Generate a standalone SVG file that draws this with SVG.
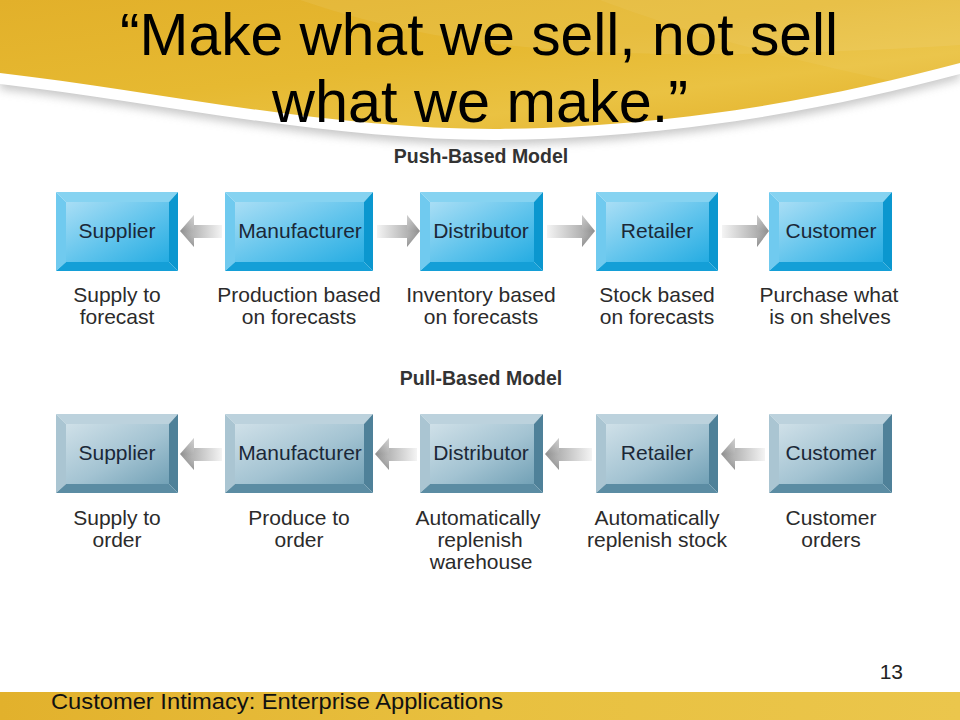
<svg xmlns="http://www.w3.org/2000/svg" width="960" height="720" viewBox="0 0 960 720">
<defs>
<linearGradient id="yel" x1="0" y1="0" x2="1" y2="1">
<stop offset="0" stop-color="#e2b02a"/>
<stop offset="0.45" stop-color="#e6b931"/>
<stop offset="0.7" stop-color="#eac242"/>
<stop offset="1" stop-color="#e1ae28"/>
</linearGradient>
<linearGradient id="yelB" x1="0" y1="0" x2="1" y2="0">
<stop offset="0" stop-color="#e2b12c"/>
<stop offset="0.5" stop-color="#e8c03f"/>
<stop offset="1" stop-color="#ebc64c"/>
</linearGradient>
<filter id="blur" x="-5%" y="-50%" width="110%" height="200%">
<feGaussianBlur stdDeviation="5"/>
</filter>
<linearGradient id="pushFace" x1="0" y1="0" x2="1" y2="1">
<stop offset="0" stop-color="#a9def5"/>
<stop offset="0.55" stop-color="#5ec3ec"/>
<stop offset="1" stop-color="#25ace2"/>
</linearGradient>
<linearGradient id="pullFace" x1="0" y1="0" x2="1" y2="1">
<stop offset="0" stop-color="#cfe0e8"/>
<stop offset="0.55" stop-color="#a3c3d2"/>
<stop offset="1" stop-color="#72a1b6"/>
</linearGradient>
<linearGradient id="arrR" x1="0" y1="0" x2="1" y2="0">
<stop offset="0" stop-color="#f4f4f4"/>
<stop offset="0.7" stop-color="#b4b4b4"/>
<stop offset="1" stop-color="#8e8e8e"/>
</linearGradient>
<linearGradient id="arrL" x1="1" y1="0" x2="0" y2="0">
<stop offset="0" stop-color="#f4f4f4"/>
<stop offset="0.7" stop-color="#b4b4b4"/>
<stop offset="1" stop-color="#8e8e8e"/>
</linearGradient>
<linearGradient id="headShade" x1="0" y1="0" x2="0" y2="1">
<stop offset="0" stop-color="#ffffff" stop-opacity="0.35"/>
<stop offset="0.5" stop-color="#ffffff" stop-opacity="0"/>
<stop offset="1" stop-color="#000000" stop-opacity="0.2"/>
</linearGradient>
</defs>
<style>
.pu-t{fill:#86d3f1}.pu-l{fill:#70caef}.pu-r{fill:#0b97cf}.pu-b{fill:#149fd7}.pu-f{fill:url(#pushFace)}
.pl-t{fill:#bcd2dd}.pl-l{fill:#aac5d2}.pl-r{fill:#4f8199}.pl-b{fill:#5b8ca3}.pl-f{fill:url(#pullFace)}
.lbl{font-family:"Liberation Sans",Arial,sans-serif;font-size:21px;fill:#1b2838;text-anchor:middle}
.desc{font-family:"Liberation Sans",Arial,sans-serif;font-size:21px;fill:#2b2b2b;text-anchor:middle}
.hdr{font-family:"Liberation Sans",Arial,sans-serif;font-size:19.5px;font-weight:bold;fill:#333333;text-anchor:middle}
.title{font-family:"Liberation Sans",Arial,sans-serif;font-size:60px;fill:#000000;text-anchor:middle}
.foot{font-family:"Liberation Sans",Arial,sans-serif;font-size:22px;fill:#111111}
.ar{fill:url(#arrR)}.al{fill:url(#arrL)}.hs{fill:url(#headShade)}
</style>
<rect x="0" y="0" width="960" height="720" fill="#ffffff"/>
<g id="banner">
<path d="M0,0 H960 V63 C840,95 690,126 500,129 C330,130 150,90 0,73 Z" transform="translate(0,16)" fill="#9a9a9a" opacity="0.55" filter="url(#blur)"/>
<path d="M0,0 H960 V63 C840,95 690,126 500,129 C330,130 150,90 0,73 Z" transform="translate(0,11)" fill="#ffffff"/>
<path d="M0,0 H960 V63 C840,95 690,126 500,129 C330,130 150,90 0,73 Z" fill="url(#yel)"/>
<path d="M300,0 C420,40 560,70 960,45 V0 Z" fill="#ffffff" opacity="0.07"/>
<path d="M600,0 C680,30 780,60 960,95 V0 Z" fill="#ffffff" opacity="0.05"/>
<text class="title" x="479" y="55" textLength="718" lengthAdjust="spacingAndGlyphs">“Make what we sell, not sell</text>
<text class="title" x="480" y="122" textLength="416" lengthAdjust="spacingAndGlyphs">what we make.”</text>
</g>
<text class="hdr" x="481" y="163">Push-Based Model</text>
<text class="hdr" x="481" y="385">Pull-Based Model</text>
<g id="connectors">
<path class="al" d="M180,231 L194,215 L194,225 L222,225 L222,238 L194,238 L194,247 Z"/>
<path class="hs" d="M180,231 L194,215 L194,247 Z"/>
<path class="ar" d="M377,225 L407,225 L407,215 L420,231 L407,247 L407,238 L377,238 Z"/>
<path class="hs" d="M420,231 L407,215 L407,247 Z"/>
<path class="ar" d="M547,225 L582,225 L582,215 L595,231 L582,247 L582,238 L547,238 Z"/>
<path class="hs" d="M595,231 L582,215 L582,247 Z"/>
<path class="ar" d="M722,225 L757,225 L757,215 L769,231 L757,247 L757,238 L722,238 Z"/>
<path class="hs" d="M769,231 L757,215 L757,247 Z"/>
<path class="al" d="M180,454 L194,438 L194,448 L222,448 L222,461 L194,461 L194,470 Z"/>
<path class="hs" d="M180,454 L194,438 L194,470 Z"/>
<path class="al" d="M375,454 L389,438 L389,448 L417,448 L417,461 L389,461 L389,470 Z"/>
<path class="hs" d="M375,454 L389,438 L389,470 Z"/>
<path class="al" d="M545,454 L559,438 L559,448 L592,448 L592,461 L559,461 L559,470 Z"/>
<path class="hs" d="M545,454 L559,438 L559,470 Z"/>
<path class="al" d="M721,454 L735,438 L735,448 L765,448 L765,461 L735,461 L735,470 Z"/>
<path class="hs" d="M721,454 L735,438 L735,470 Z"/>
</g>
<g id="push-supplier">
<polygon class="pu-t" points="56,192 178,192 169,202 66,202"/>
<polygon class="pu-l" points="56,192 66,202 66,262 56,271"/>
<polygon class="pu-r" points="178,192 178,271 169,262 169,202"/>
<polygon class="pu-b" points="56,271 66,262 169,262 178,271"/>
<rect class="pu-f" x="66" y="202" width="103" height="60"/>
<text class="lbl" x="117" y="238">Supplier</text>
<text class="desc" x="117" y="302">Supply to</text>
<text class="desc" x="117" y="324">forecast</text>
</g>
<g id="push-manufacturer">
<polygon class="pu-t" points="225,192 373,192 364,202 235,202"/>
<polygon class="pu-l" points="225,192 235,202 235,262 225,271"/>
<polygon class="pu-r" points="373,192 373,271 364,262 364,202"/>
<polygon class="pu-b" points="225,271 235,262 364,262 373,271"/>
<rect class="pu-f" x="235" y="202" width="129" height="60"/>
<text class="lbl" x="300" y="238">Manufacturer</text>
<text class="desc" x="299" y="302">Production based</text>
<text class="desc" x="299" y="324">on forecasts</text>
</g>
<g id="push-distributor">
<polygon class="pu-t" points="420,192 543,192 534,202 430,202"/>
<polygon class="pu-l" points="420,192 430,202 430,262 420,271"/>
<polygon class="pu-r" points="543,192 543,271 534,262 534,202"/>
<polygon class="pu-b" points="420,271 430,262 534,262 543,271"/>
<rect class="pu-f" x="430" y="202" width="104" height="60"/>
<text class="lbl" x="481" y="238">Distributor</text>
<text class="desc" x="481" y="302">Inventory based</text>
<text class="desc" x="481" y="324">on forecasts</text>
</g>
<g id="push-retailer">
<polygon class="pu-t" points="596,192 718,192 709,202 606,202"/>
<polygon class="pu-l" points="596,192 606,202 606,262 596,271"/>
<polygon class="pu-r" points="718,192 718,271 709,262 709,202"/>
<polygon class="pu-b" points="596,271 606,262 709,262 718,271"/>
<rect class="pu-f" x="606" y="202" width="103" height="60"/>
<text class="lbl" x="657" y="238">Retailer</text>
<text class="desc" x="657" y="302">Stock based</text>
<text class="desc" x="657" y="324">on forecasts</text>
</g>
<g id="push-customer">
<polygon class="pu-t" points="769,192 892,192 883,202 779,202"/>
<polygon class="pu-l" points="769,192 779,202 779,262 769,271"/>
<polygon class="pu-r" points="892,192 892,271 883,262 883,202"/>
<polygon class="pu-b" points="769,271 779,262 883,262 892,271"/>
<rect class="pu-f" x="779" y="202" width="104" height="60"/>
<text class="lbl" x="831" y="238">Customer</text>
<text class="desc" x="829" y="302">Purchase what</text>
<text class="desc" x="830" y="324">is on shelves</text>
</g>
<g id="pull-supplier">
<polygon class="pl-t" points="56,414 178,414 169,424 66,424"/>
<polygon class="pl-l" points="56,414 66,424 66,484 56,493"/>
<polygon class="pl-r" points="178,414 178,493 169,484 169,424"/>
<polygon class="pl-b" points="56,493 66,484 169,484 178,493"/>
<rect class="pl-f" x="66" y="424" width="103" height="60"/>
<text class="lbl" x="117" y="460">Supplier</text>
<text class="desc" x="117" y="525">Supply to</text>
<text class="desc" x="117" y="547">order</text>
</g>
<g id="pull-manufacturer">
<polygon class="pl-t" points="225,414 373,414 364,424 235,424"/>
<polygon class="pl-l" points="225,414 235,424 235,484 225,493"/>
<polygon class="pl-r" points="373,414 373,493 364,484 364,424"/>
<polygon class="pl-b" points="225,493 235,484 364,484 373,493"/>
<rect class="pl-f" x="235" y="424" width="129" height="60"/>
<text class="lbl" x="300" y="460">Manufacturer</text>
<text class="desc" x="299" y="525">Produce to</text>
<text class="desc" x="299" y="547">order</text>
</g>
<g id="pull-distributor">
<polygon class="pl-t" points="420,414 543,414 534,424 430,424"/>
<polygon class="pl-l" points="420,414 430,424 430,484 420,493"/>
<polygon class="pl-r" points="543,414 543,493 534,484 534,424"/>
<polygon class="pl-b" points="420,493 430,484 534,484 543,493"/>
<rect class="pl-f" x="430" y="424" width="104" height="60"/>
<text class="lbl" x="481" y="460">Distributor</text>
<text class="desc" x="478" y="525">Automatically</text>
<text class="desc" x="480" y="547">replenish</text>
<text class="desc" x="481" y="569">warehouse</text>
</g>
<g id="pull-retailer">
<polygon class="pl-t" points="596,414 718,414 709,424 606,424"/>
<polygon class="pl-l" points="596,414 606,424 606,484 596,493"/>
<polygon class="pl-r" points="718,414 718,493 709,484 709,424"/>
<polygon class="pl-b" points="596,493 606,484 709,484 718,493"/>
<rect class="pl-f" x="606" y="424" width="103" height="60"/>
<text class="lbl" x="657" y="460">Retailer</text>
<text class="desc" x="657" y="525">Automatically</text>
<text class="desc" x="657" y="547">replenish stock</text>
</g>
<g id="pull-customer">
<polygon class="pl-t" points="769,414 892,414 883,424 779,424"/>
<polygon class="pl-l" points="769,414 779,424 779,484 769,493"/>
<polygon class="pl-r" points="892,414 892,493 883,484 883,424"/>
<polygon class="pl-b" points="769,493 779,484 883,484 892,493"/>
<rect class="pl-f" x="779" y="424" width="104" height="60"/>
<text class="lbl" x="831" y="460">Customer</text>
<text class="desc" x="831" y="525">Customer</text>
<text class="desc" x="831" y="547">orders</text>
</g>
<g id="footer">
<rect x="0" y="692" width="960" height="28" fill="url(#yelB)"/>
<text class="foot" x="51" y="709" textLength="452" lengthAdjust="spacingAndGlyphs">Customer Intimacy: Enterprise Applications</text>
<text x="903" y="679" font-family="Liberation Sans, Arial, sans-serif" font-size="21" fill="#222222" text-anchor="end">13</text>
</g>
</svg>
